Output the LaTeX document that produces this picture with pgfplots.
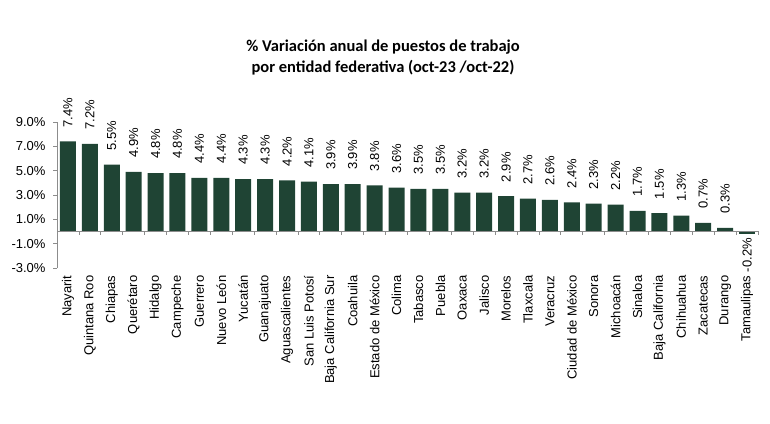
\documentclass[border=0pt]{standalone}
\usepackage{fontspec}
\setmainfont{Liberation Sans}
\newfontfamily\titlefont{Carlito}
\usepackage{pgfplots}
\pgfplotsset{compat=1.18}
\definecolor{barcol}{RGB}{31,68,52}
\definecolor{axcol}{RGB}{140,140,140}
\begin{document}
\begin{tikzpicture}
\useasboundingbox (-57pt,-155pt) rectangle (713pt,268pt);
\begin{axis}[
 at={(0pt,0pt)}, anchor=south west,
 scale only axis, width=701pt, height=146pt,
 xmin=-0.5, xmax=31.5, ymin=-3, ymax=9,
 ybar, bar width=16pt, bar shift=0pt,
 clip=false,
 axis y line*=left, axis x line*=bottom,
 x axis line style={draw=none},
 y axis line style={draw=axcol, line width=0.8pt},
 xtick={0,...,31},
 xticklabels={Nayarit,Quintana Roo,Chiapas,Querétaro,Hidalgo,Campeche,Guerrero,Nuevo León,Yucatán,Guanajuato,Aguascalientes,San Luis Potosí,Baja California Sur,Coahuila,Estado de México,Colima,Tabasco,Puebla,Oaxaca,Jalisco,Morelos,Tlaxcala,Veracruz,Ciudad de México,Sonora,Michoacán,Sinaloa,Baja California,Chihuahua,Zacatecas,Durango,Tamaulipas},
 major x tick style={draw=none},
 ytick={-3,-1,...,9},
 yticklabel={\pgfmathprintnumber[fixed,fixed zerofill,precision=1]{\tick}\%},
 /pgf/number format/assume math mode=true,
 tick label style={font=\fontsize{13}{13}\selectfont},
 yticklabel style={xshift=-4pt},
 xticklabel style={rotate=90, anchor=east},
 ytick style={draw=axcol, line width=0.8pt},
 tick align=outside, major tick length=4pt,
 nodes near coords={\pgfmathprintnumber[fixed,fixed zerofill,precision=1]{\pgfplotspointmeta}\%},
 nodes near coords style={font=\fontsize{13}{13}\selectfont, rotate=90, anchor=west, inner xsep=14pt},
]
\addplot[fill=barcol, draw=none] coordinates {
(0,7.4) (1,7.2) (2,5.5) (3,4.9) (4,4.8) (5,4.8) (6,4.4) (7,4.4) (8,4.3) (9,4.3)
(10,4.2) (11,4.1) (12,3.9) (13,3.9) (14,3.8) (15,3.6) (16,3.5) (17,3.5) (18,3.2) (19,3.2)
(20,2.9) (21,2.7) (22,2.6) (23,2.4) (24,2.3) (25,2.2) (26,1.7) (27,1.5) (28,1.3) (29,0.7)
(30,0.3)};
\addplot[fill=barcol, draw=none, nodes near coords style={anchor=east, inner xsep=4pt}] coordinates {(31,-0.2)};
\draw[axcol, line width=0.8pt] (axis cs:-0.5,0) -- (axis cs:31.5,0);
\pgfplotsinvokeforeach{-0.5,0.5,...,31.5}{\draw[axcol, line width=0.8pt] (axis cs:#1,0) -- ++(0pt,-4pt);}
\end{axis}
\node[font=\titlefont\bfseries\fontsize{16.5}{21}\selectfont, align=center] at (326pt,210pt) {\% Variación anual de puestos de trabajo\\por entidad federativa (oct-23 /oct-22)};
\end{tikzpicture}
\end{document}
